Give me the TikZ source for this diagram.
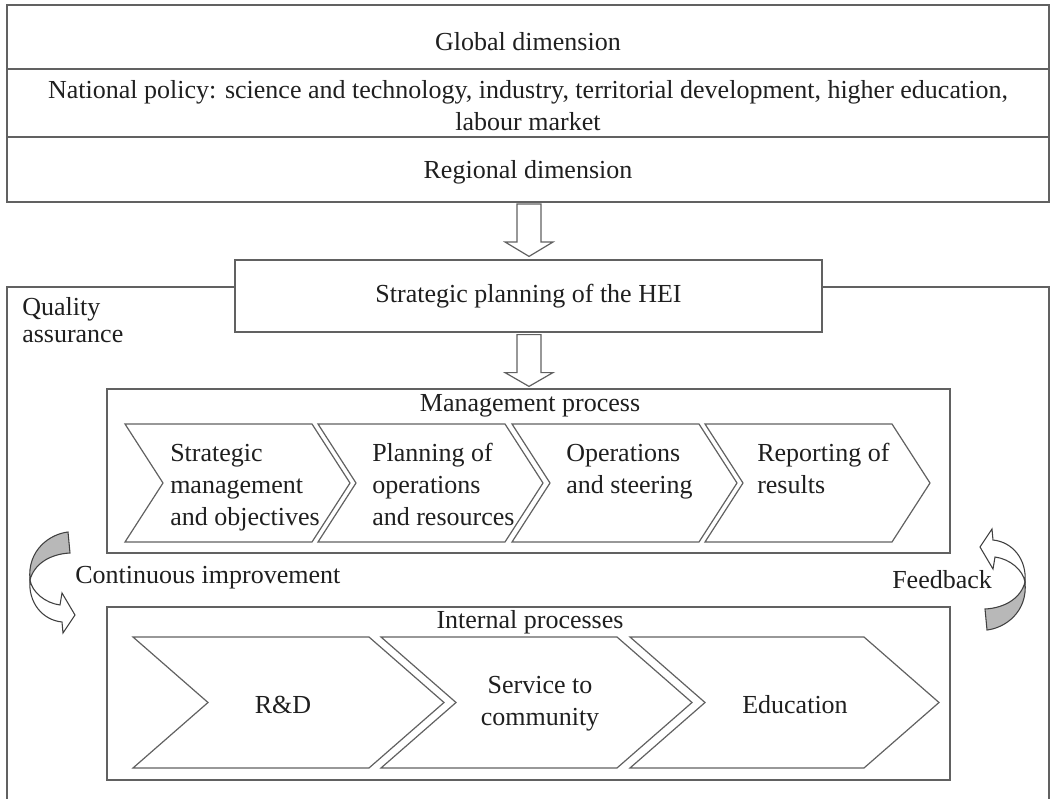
\documentclass[tikz,border=0pt]{standalone}
\usepackage{fontspec}
\setmainfont{Liberation Serif}
\usetikzlibrary{calc}
\begin{document}
\begin{tikzpicture}[x=0.75pt,y=-0.75pt,
  line/.style={draw=black!62,line width=0.9pt},
  heavyline/.style={draw=black!62,line width=1.4pt},
  txt/.style={font=\fontsize{19.5pt}{24pt}\selectfont,text=black!88,inner sep=0pt},
  chevtxt/.style={txt,anchor=north west,align=left},
  chev/.style={line,fill=white,line join=miter},
  bigarrow/.style={line,fill=white,line join=miter},
  ribbonback/.style={draw=black!75,line width=0.8pt,fill=black!28},
  ribbonfront/.style={draw=black!75,line width=0.8pt,fill=white}]
\useasboundingbox (0,0) rectangle (1051,799);
% top block
\draw[heavyline] (7,5) rectangle (1049,202);
\draw[heavyline] (7,69) -- (1049,69);
\draw[heavyline] (7,137) -- (1049,137);
\node[txt] (global) at (528,42) {Global dimension};
\node[txt,align=center] (national) at (528,106) {National policy: science and technology, industry, territorial development, higher education,\\labour market};
\node[txt] (regional) at (528,172) {Regional dimension};
\coordinate (topS) at (529,202);
% quality assurance frame
\draw[line] (7,800) -- (7,287) -- (1049,287) -- (1049,800);
\node[txt,anchor=west,align=left,font=\fontsize{19.5pt}{20pt}\selectfont] (qa) at (22,320) {Quality\\assurance};
% strategic planning
\node[line,fill=white,minimum width=440.25pt,minimum height=54pt,txt] (strat) at (528.5,296) {Strategic planning of the HEI};
% hollow arrows
\draw[bigarrow] ($(topS)+(-12,2)$) -- ($(topS)+(12,2)$) -- ($(topS)+(12,40)$) -- ($(topS)+(24,40)$)
  -- ($(strat.north)+(0.5,-3)$) -- ($(topS)+(-24,40)$) -- ($(topS)+(-12,40)$) -- cycle;
% management box
\node[line,minimum width=632.25pt,minimum height=123pt] (mgmt) at (528.5,471) {};
\draw[bigarrow] ($(strat.south)+(-11.5,2)$) -- ($(strat.south)+(12.5,2)$) -- ($(strat.south)+(12.5,40)$) -- ($(strat.south)+(24.5,40)$)
  -- ($(mgmt.north)+(0.5,-2)$) -- ($(strat.south)+(-23.5,40)$) -- ($(strat.south)+(-11.5,40)$) -- cycle;
\node[txt] (mgmtlabel) at (530,406) {Management process};
\foreach \L/\R in {125/312,318/505,512/699,705/892}
  \draw[chev] (\L,424) -- (\R,424) -- (\R+38,483) -- (\R,542) -- (\L,542) -- (\L+38,483) -- cycle;
\node[chevtxt] (c1) at (170,439) {\strut Strategic\\management\\and objectives};
\node[chevtxt] (c2) at (372,439) {\strut Planning of\\operations\\and resources};
\node[chevtxt] (c3) at (566,439) {\strut Operations\\and steering};
\node[chevtxt] (c4) at (757,439) {\strut Reporting of\\results};
% internal processes box
\node[line,minimum width=632.25pt,minimum height=129.75pt] (intl) at (528.5,693.5) {};
\node[txt] (intllabel) at (530,622) {Internal processes};
\foreach \L/\R in {133/369,381/617,630/864}
  \draw[chev] (\L,637) -- (\R,637) -- (\R+75,702.5) -- (\R,768) -- (\L,768) -- (\L+75,702.5) -- cycle;
\node[txt] (rd) at (283,705) {R\&D};
\node[txt,align=center] (svc) at (540,704) {Service to\\community};
\node[txt] (edu) at (795,705) {Education};
% labels between boxes
\node[txt,anchor=west] (ci) at (75,578) {Continuous improvement};
\node[txt,anchor=west] (fb) at (892,580) {Feedback};
% curved ribbon arrows
\begin{scope}[shift={(50,582)}]
  \draw[ribbonback] (18,-50) .. controls (0,-48) and (-23,-32) .. (-20,-2)
    .. controls (-16,-18) and (0,-28) .. (20,-29) -- cycle;
  \draw[ribbonfront] (-20,-2) .. controls (-18,10) and (-5,21) .. (10,23) -- (12,11) -- (25,33) -- (13,51) -- (12,40)
    .. controls (-8,38) and (-22,20) .. (-20,-2) -- cycle;
\end{scope}
\begin{scope}[shift={(1005,580)},rotate=180]
  \draw[ribbonback] (18,-50) .. controls (0,-48) and (-23,-32) .. (-20,-2)
    .. controls (-16,-18) and (0,-28) .. (20,-29) -- cycle;
  \draw[ribbonfront] (-20,-2) .. controls (-18,10) and (-5,21) .. (10,23) -- (12,11) -- (25,33) -- (13,51) -- (12,40)
    .. controls (-8,38) and (-22,20) .. (-20,-2) -- cycle;
\end{scope}
\end{tikzpicture}
\end{document}
